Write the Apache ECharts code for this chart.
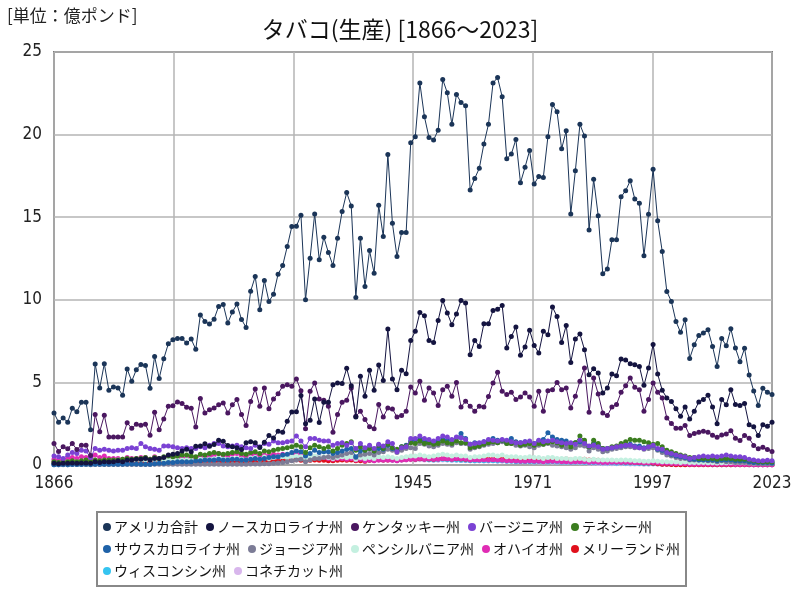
<!DOCTYPE html>
<html><head><meta charset="utf-8">
<script src="https://cdn.jsdelivr.net/npm/echarts/dist/echarts.min.js"></script>
<style>html,body{margin:0;padding:0;background:#fff}#c{width:800px;height:600px}</style>
</head><body><div id="c"></div>
<script>
const startYear = 1866, endYear = 2023;
const titleText = 'タバコ(生産) [1866～2023]';
const unitText = '[単位：億ポンド]';
const seriesNames = ['アメリカ合計','ノースカロライナ州','ケンタッキー州','バージニア州','テネシー州','サウスカロライナ州','ジョージア州','ペンシルバニア州','オハイオ州','メリーランド州','ウィスコンシン州','コネチカット州'];
const seriesColors = ['#1b3558','#141440','#4a1760','#7b42d4','#3b7d1f','#1f62a8','#7c7c96','#c4f0e0','#e02cb4','#e0101c','#35c4f0','#d8b6ec'];

const usTotal = [
3.15,2.59,2.85,2.59,3.43,3.23,3.8,3.8,2.14,6.11,
4.66,6.13,4.52,4.72,4.66,4.22,5.81,5.07,5.77,6.09,
6.03,4.64,6.57,5.24,6.43,7.34,7.58,7.66,7.66,7.38,
7.62,7.0,9.08,8.69,8.53,8.83,9.6,9.72,8.59,9.26,
9.74,8.81,8.33,10.52,11.41,9.4,11.17,9.9,10.34,11.55,
12.07,13.22,14.43,14.45,15.12,10.0,12.52,15.2,12.42,13.79,
12.86,12.07,13.73,15.34,16.49,15.68,10.14,13.73,10.8,12.98,
11.61,15.72,13.83,18.8,14.63,12.62,14.07,14.07,19.5,19.87,
23.13,21.08,19.83,19.67,20.27,23.34,22.53,20.62,22.43,21.95,
21.74,16.65,17.35,17.96,19.43,20.62,23.13,23.45,22.29,18.54,
18.82,19.71,17.09,18.02,19.04,17.01,17.47,17.41,19.87,21.82,
21.38,19.14,20.23,15.2,17.81,20.62,19.91,14.23,17.29,15.09,
11.57,11.87,13.64,13.64,16.24,16.6,17.21,16.1,15.84,12.66,
15.18,17.9,14.79,12.92,10.5,9.9,8.69,8.03,8.79,6.45,
7.28,7.84,7.99,8.19,7.18,5.97,7.66,7.22,8.25,7.08,
6.25,7.06,5.45,4.48,3.6,4.64,4.4,4.26];

const northCarolina = [
0.1,0.08,0.1,0.1,0.12,0.1,0.12,0.12,0.1,0.2,
0.15,0.2,0.18,0.2,0.25,0.2,0.3,0.3,0.35,0.35,
0.4,0.3,0.4,0.4,0.45,0.6,0.65,0.7,0.85,0.95,
0.8,1.14,1.15,1.28,1.14,1.24,1.5,1.44,1.18,1.1,
1.04,0.94,1.34,1.4,1.34,1.06,1.38,1.78,1.64,2.04,
1.98,2.65,3.21,3.23,4.2,2.5,2.71,4.0,2.58,3.8,
3.8,4.86,4.97,4.93,5.85,4.8,2.91,5.37,4.16,5.73,
4.52,6.05,5.12,8.23,5.21,4.56,5.73,5.53,7.54,8.09,
9.23,9.03,7.54,7.42,8.75,9.96,9.2,8.49,9.14,9.96,
9.8,6.68,7.54,7.18,8.55,8.55,9.35,9.43,9.66,7.08,
7.78,8.35,6.64,7.14,8.15,7.24,6.78,8.09,7.89,9.56,
8.99,7.42,8.45,6.21,7.62,7.93,6.98,5.47,5.83,5.57,
4.36,4.66,5.51,5.41,6.41,6.35,6.13,6.07,5.97,4.82,
5.87,7.3,5.51,4.52,4.06,3.84,3.41,2.95,3.51,2.79,
3.25,3.82,3.96,4.22,3.51,2.49,3.96,3.64,4.56,3.66,
3.6,3.72,2.43,2.31,1.78,2.43,2.35,2.59];

const kentucky = [
1.3,0.82,1.1,0.98,1.3,0.94,1.2,1.2,0.57,3.05,
2.02,3.01,1.7,1.7,1.7,1.7,2.55,2.22,2.47,2.41,
2.47,1.8,3.19,2.14,2.79,3.55,3.59,3.82,3.72,3.5,
3.43,2.3,4.03,3.15,3.35,3.45,3.64,3.76,3.15,3.64,
3.96,3.05,2.39,3.84,4.6,3.55,4.66,3.4,4.0,4.32,
4.76,4.86,4.76,5.21,4.5,2.2,4.46,4.97,4.0,3.92,
3.55,1.98,3.05,3.8,3.92,4.66,2.95,3.25,2.75,2.31,
2.19,3.66,2.91,3.45,3.39,2.91,2.99,3.25,4.72,4.36,
5.07,3.92,4.66,4.36,3.6,4.56,4.76,4.16,5.0,3.51,
3.86,3.55,3.25,3.55,3.51,4.15,4.97,5.61,4.46,4.26,
4.4,3.96,4.12,4.36,4.12,3.55,4.46,3.25,4.5,4.56,
5.0,4.56,4.66,3.45,4.16,5.07,5.87,3.19,5.27,4.3,
3.15,2.99,3.51,3.66,4.4,4.8,5.27,4.7,4.56,3.25,
3.96,4.97,4.4,4.06,2.85,2.51,2.22,2.22,2.39,1.78,
1.9,1.98,2.04,1.98,1.8,1.68,1.82,1.88,2.08,1.62,
1.48,1.78,1.62,1.18,0.98,1.08,0.94,0.82];

const virginia = [
0.55,0.5,0.4,0.6,0.75,0.7,0.9,0.85,0.45,1.0,
0.9,0.95,0.9,0.85,0.9,0.9,1.0,1.05,1.0,1.3,
1.1,1.0,0.95,0.9,1.15,1.15,1.1,1.05,1.0,1.05,
1.0,1.0,1.1,1.05,1.2,1.3,1.3,1.15,1.1,1.15,
1.2,1.1,1.05,1.0,1.2,1.1,1.3,1.25,1.45,1.35,
1.35,1.4,1.45,1.75,1.45,1.1,1.6,1.6,1.5,1.45,
1.45,1.2,1.3,1.35,1.2,1.35,1.0,1.3,1.05,1.2,
1.0,1.25,1.15,1.4,1.3,0.8,1.05,1.1,1.6,1.6,
1.75,1.6,1.55,1.45,1.6,1.75,1.7,1.55,1.7,1.65,
1.55,1.25,1.3,1.35,1.4,1.55,1.5,1.45,1.55,1.5,
1.4,1.35,1.35,1.4,1.45,1.3,1.5,1.4,1.45,1.5,
1.4,1.35,1.3,1.35,1.25,1.5,1.3,1.15,1.2,1.1,
0.95,1.0,1.05,1.1,1.15,1.2,1.2,1.1,1.05,1.0,
1.1,1.2,1.0,0.95,0.75,0.7,0.6,0.55,0.5,0.4,
0.45,0.5,0.55,0.5,0.55,0.5,0.55,0.6,0.55,0.5,
0.5,0.45,0.35,0.3,0.25,0.25,0.28,0.25];

const tennessee = [
0.2,0.15,0.2,0.2,0.25,0.2,0.25,0.3,0.2,0.3,
0.25,0.3,0.3,0.3,0.3,0.35,0.4,0.35,0.4,0.4,
0.45,0.35,0.45,0.4,0.5,0.55,0.5,0.55,0.6,0.6,
0.55,0.5,0.65,0.6,0.7,0.75,0.7,0.65,0.7,0.75,
0.8,0.7,0.65,0.75,0.8,0.7,0.85,0.8,0.9,0.95,
1.0,1.05,1.1,1.2,1.1,0.75,1.05,1.2,1.1,1.0,
1.1,0.85,1.0,1.2,1.3,1.4,0.9,1.1,0.9,1.0,
0.85,1.2,1.0,1.25,1.05,0.95,1.1,1.15,1.35,1.3,
1.45,1.3,1.35,1.25,1.3,1.45,1.35,1.3,1.45,1.35,
1.35,1.05,1.1,1.15,1.25,1.35,1.4,1.35,1.5,1.3,
1.3,1.35,1.2,1.25,1.3,1.2,1.3,1.25,1.35,1.4,
1.35,1.2,1.3,1.1,1.35,1.75,1.5,1.1,1.5,1.3,
1.0,1.0,1.1,1.15,1.3,1.4,1.55,1.5,1.5,1.4,
1.35,1.25,1.3,1.1,0.9,0.8,0.7,0.6,0.55,0.45,
0.45,0.4,0.4,0.4,0.4,0.35,0.4,0.4,0.4,0.35,
0.35,0.35,0.3,0.25,0.2,0.2,0.2,0.2];

const southCarolina = [
0.02,0.02,0.03,0.02,0.03,0.03,0.03,0.04,0.03,0.04,
0.04,0.04,0.05,0.05,0.05,0.05,0.06,0.06,0.06,0.05,
0.05,0.05,0.08,0.1,0.1,0.15,0.15,0.2,0.2,0.2,
0.2,0.25,0.25,0.3,0.3,0.3,0.35,0.3,0.3,0.35,
0.35,0.3,0.3,0.35,0.4,0.35,0.4,0.45,0.5,0.5,
0.6,0.65,0.75,0.85,0.8,0.55,0.7,0.9,0.75,0.8,
0.8,0.7,0.75,0.85,0.95,1.0,0.5,0.85,0.9,1.0,
0.85,1.0,0.95,1.2,1.0,0.9,1.1,1.2,1.45,1.5,
1.55,1.45,1.4,1.35,1.45,1.55,1.5,1.5,1.65,1.9,
1.6,1.25,1.35,1.3,1.4,1.45,1.6,1.5,1.5,1.35,
1.6,1.4,1.35,1.4,1.35,1.3,1.45,1.55,1.95,1.7,
1.55,1.5,1.45,1.3,1.35,1.4,1.35,1.1,1.3,1.2,
1.0,1.0,1.05,1.1,1.15,1.2,1.25,1.15,1.15,1.05,
1.1,1.2,0.95,0.9,0.75,0.65,0.55,0.5,0.45,0.35,
0.35,0.3,0.3,0.3,0.3,0.25,0.3,0.3,0.3,0.25,
0.25,0.25,0.2,0.15,0.15,0.15,0.15,0.12];

const georgia = [
0.02,0.02,0.02,0.02,0.03,0.03,0.03,0.03,0.02,0.03,
0.03,0.03,0.03,0.03,0.03,0.03,0.03,0.03,0.03,0.03,
0.03,0.03,0.04,0.04,0.04,0.04,0.04,0.04,0.04,0.04,
0.04,0.04,0.05,0.05,0.05,0.05,0.05,0.05,0.05,0.05,
0.05,0.05,0.05,0.06,0.06,0.06,0.07,0.08,0.1,0.12,
0.15,0.2,0.25,0.3,0.35,0.2,0.3,0.4,0.4,0.45,
0.5,0.45,0.55,0.6,0.7,0.75,0.45,0.6,0.65,0.7,
0.6,0.75,0.8,0.95,0.9,0.75,0.9,1.0,1.05,1.0,
1.3,1.25,1.15,1.1,1.2,1.3,1.25,1.2,1.35,1.3,
1.3,0.95,1.05,1.1,1.2,1.25,1.3,1.35,1.4,1.3,
1.3,1.2,1.15,1.2,1.1,1.05,1.2,1.25,1.3,1.2,
1.15,1.1,1.05,0.95,1.05,1.2,1.15,0.85,1.05,0.95,
0.8,0.85,0.95,1.0,1.05,1.1,1.1,1.05,1.05,0.95,
1.0,1.05,0.9,0.75,0.6,0.55,0.45,0.4,0.4,0.3,
0.3,0.3,0.3,0.25,0.25,0.2,0.25,0.2,0.2,0.15,
0.15,0.15,0.1,0.1,0.08,0.08,0.08,0.07];

const pennsylvania = [
0.15,0.12,0.15,0.18,0.2,0.18,0.22,0.2,0.12,0.25,
0.2,0.25,0.22,0.25,0.3,0.25,0.3,0.3,0.28,0.3,
0.3,0.25,0.32,0.28,0.3,0.32,0.35,0.3,0.3,0.32,
0.3,0.28,0.35,0.33,0.35,0.38,0.4,0.35,0.33,0.38,
0.4,0.35,0.3,0.42,0.45,0.35,0.48,0.4,0.45,0.5,
0.5,0.45,0.5,0.55,0.5,0.4,0.5,0.55,0.45,0.5,
0.45,0.4,0.45,0.5,0.45,0.5,0.35,0.45,0.4,0.45,
0.4,0.5,0.45,0.5,0.45,0.4,0.45,0.5,0.55,0.55,
0.6,0.55,0.5,0.55,0.6,0.65,0.6,0.55,0.6,0.55,
0.55,0.45,0.5,0.5,0.55,0.6,0.6,0.55,0.6,0.5,
0.5,0.5,0.45,0.45,0.5,0.45,0.45,0.4,0.45,0.45,
0.4,0.4,0.4,0.35,0.4,0.4,0.35,0.3,0.35,0.3,
0.3,0.3,0.3,0.28,0.3,0.3,0.28,0.25,0.25,0.22,
0.22,0.25,0.22,0.2,0.2,0.18,0.18,0.15,0.18,0.15,
0.15,0.15,0.15,0.14,0.14,0.12,0.14,0.14,0.15,0.13,
0.13,0.14,0.12,0.1,0.1,0.1,0.1,0.1];

const ohio = [
0.35,0.3,0.35,0.4,0.45,0.4,0.5,0.45,0.3,0.6,
0.45,0.55,0.4,0.4,0.4,0.35,0.45,0.4,0.4,0.45,
0.45,0.35,0.5,0.4,0.4,0.45,0.5,0.45,0.4,0.45,
0.45,0.4,0.55,0.5,0.55,0.6,0.7,0.6,0.55,0.65,
0.7,0.55,0.5,0.6,0.65,0.5,0.6,0.55,0.65,0.6,
0.65,0.6,0.65,0.7,0.6,0.45,0.55,0.5,0.45,0.45,
0.4,0.35,0.4,0.4,0.35,0.4,0.3,0.35,0.25,0.3,
0.25,0.3,0.3,0.3,0.28,0.25,0.3,0.32,0.35,0.35,
0.4,0.35,0.38,0.35,0.35,0.4,0.38,0.35,0.4,0.38,
0.36,0.3,0.32,0.3,0.32,0.3,0.32,0.3,0.28,0.25,
0.25,0.24,0.22,0.23,0.24,0.22,0.22,0.2,0.22,0.23,
0.22,0.2,0.2,0.18,0.2,0.2,0.2,0.16,0.18,0.17,
0.15,0.15,0.16,0.16,0.17,0.16,0.16,0.15,0.15,0.13,
0.13,0.15,0.12,0.11,0.1,0.09,0.08,0.07,0.07,0.05,
0.05,0.05,0.05,0.04,0.04,0.04,0.04,0.04,0.04,0.03,
0.03,0.03,0.03,0.02,0.02,0.02,0.02,0.02];

const maryland = [
0.2,0.22,0.2,0.18,0.15,0.2,0.18,0.2,0.2,0.18,
0.2,0.22,0.2,0.22,0.25,0.2,0.22,0.2,0.2,0.18,
0.2,0.2,0.22,0.2,0.22,0.2,0.2,0.18,0.2,0.2,
0.2,0.18,0.2,0.2,0.22,0.2,0.22,0.2,0.18,0.2,
0.2,0.18,0.18,0.2,0.22,0.2,0.22,0.22,0.25,0.22,
0.25,0.28,0.3,0.32,0.28,0.25,0.28,0.3,0.28,0.28,
0.26,0.25,0.28,0.3,0.28,0.3,0.25,0.25,0.22,0.28,
0.3,0.32,0.3,0.3,0.32,0.3,0.32,0.35,0.36,0.35,
0.38,0.36,0.36,0.35,0.38,0.4,0.38,0.36,0.38,0.36,
0.35,0.32,0.34,0.34,0.36,0.36,0.35,0.34,0.35,0.33,
0.32,0.32,0.3,0.3,0.3,0.32,0.34,0.35,0.32,0.32,
0.32,0.34,0.36,0.32,0.3,0.34,0.35,0.3,0.3,0.28,
0.25,0.24,0.22,0.2,0.18,0.18,0.16,0.15,0.14,0.12,
0.12,0.1,0.08,0.05,0.04,0.03,0.02,0.02,0.02,0.02,
0.02,0.02,0.02,0.02,0.01,0.01,0.01,0.01,0.01,0.01,
0.01,0.01,0.01,0.01,0.01,0.01,0.01,0.01];

const wisconsin = [
0.05,0.05,0.06,0.08,0.1,0.1,0.12,0.12,0.08,0.15,
0.12,0.15,0.14,0.15,0.15,0.18,0.2,0.2,0.22,0.25,
0.25,0.2,0.25,0.22,0.25,0.28,0.3,0.25,0.25,0.3,
0.3,0.28,0.32,0.3,0.35,0.35,0.38,0.35,0.32,0.35,
0.38,0.35,0.32,0.4,0.42,0.38,0.45,0.4,0.45,0.48,
0.5,0.45,0.5,0.55,0.5,0.4,0.48,0.5,0.45,0.45,
0.42,0.4,0.45,0.45,0.4,0.42,0.35,0.38,0.25,0.3,
0.28,0.35,0.32,0.35,0.3,0.28,0.32,0.35,0.38,0.35,
0.38,0.35,0.32,0.3,0.32,0.35,0.32,0.3,0.3,0.28,
0.28,0.25,0.26,0.25,0.26,0.25,0.26,0.24,0.25,0.22,
0.22,0.2,0.2,0.2,0.2,0.18,0.2,0.18,0.18,0.2,
0.18,0.17,0.17,0.15,0.16,0.16,0.15,0.13,0.14,0.13,
0.12,0.12,0.12,0.11,0.12,0.11,0.1,0.1,0.09,0.08,
0.08,0.08,0.07,0.06,0.06,0.05,0.05,0.04,0.04,0.03,
0.03,0.03,0.03,0.03,0.02,0.02,0.02,0.02,0.02,0.02,
0.02,0.02,0.01,0.01,0.01,0.01,0.01,0.01];

const connecticut = [
0.1,0.1,0.12,0.15,0.15,0.12,0.15,0.18,0.1,0.2,
0.15,0.2,0.18,0.2,0.2,0.18,0.2,0.2,0.18,0.2,
0.2,0.18,0.2,0.18,0.2,0.22,0.22,0.2,0.18,0.22,
0.2,0.2,0.22,0.2,0.22,0.25,0.24,0.22,0.22,0.25,
0.25,0.22,0.22,0.25,0.28,0.24,0.28,0.26,0.3,0.32,
0.32,0.35,0.38,0.4,0.38,0.3,0.35,0.4,0.35,0.38,
0.35,0.32,0.35,0.38,0.35,0.32,0.3,0.28,0.25,0.28,
0.25,0.28,0.27,0.3,0.28,0.25,0.28,0.3,0.32,0.3,
0.32,0.3,0.3,0.28,0.28,0.3,0.3,0.28,0.28,0.27,
0.26,0.25,0.24,0.25,0.24,0.24,0.25,0.24,0.23,0.22,
0.22,0.21,0.2,0.2,0.19,0.18,0.18,0.17,0.18,0.17,
0.16,0.16,0.15,0.14,0.15,0.14,0.13,0.1,0.1,0.09,
0.07,0.07,0.07,0.07,0.07,0.07,0.06,0.06,0.06,0.05,
0.05,0.06,0.05,0.05,0.05,0.04,0.04,0.04,0.04,0.04,
0.04,0.04,0.04,0.03,0.03,0.03,0.03,0.03,0.03,0.03,
0.03,0.03,0.03,0.02,0.02,0.02,0.02,0.02];

const allValues = [usTotal, northCarolina, kentucky, virginia, tennessee, southCarolina, georgia, pennsylvania, ohio, maryland, wisconsin, connecticut];
const span = endYear - startYear;

const chart = echarts.init(document.getElementById('c'), null, {renderer: 'canvas'});
const series = [];
for (let k = allValues.length - 1; k >= 0; k--) {
  series.push({
    name: seriesNames[k],
    type: 'line',
    data: allValues[k].map((v, i) => [i, v]),
    symbol: 'circle',
    symbolSize: 5,
    showSymbol: true,
    lineStyle: {width: 1, color: seriesColors[k]},
    itemStyle: {color: seriesColors[k]},
    z: 10 - k * 0.1,
    silent: true
  });
}
const font = "'Liberation Sans Narrow','DejaVu Sans Condensed','Noto Sans CJK JP',sans-serif";
chart.setOption({
  animation: false,
  backgroundColor: '#fff',
  title: {text: titleText, left: 'center', top: 13,
    textStyle: {fontFamily: "'Noto Sans CJK JP'", fontSize: 23, fontWeight: 'normal', color: '#111'}},
  graphic: [{type: 'text', left: 7, top: 7,
    style: {text: unitText, font: "17px 'Noto Sans CJK JP'", fill: '#222'}}],
  grid: {left: 54, right: 28, top: 52, bottom: 135, show: true, borderColor: '#7a7a7a', borderWidth: 2, backgroundColor: 'transparent'},
  xAxis: {type: 'value', min: 0, max: span, interval: span / 6,
    axisLine: {show: false}, axisTick: {show: false},
    splitLine: {show: true, lineStyle: {color: '#b4b4b4', width: 1.5}},
    axisLabel: {fontFamily: font, fontSize: 17, color: '#222', margin: 10,
      formatter: v => String(Math.round(startYear + v + 1e-6))}},
  yAxis: {type: 'value', min: 0, max: 25, interval: 5,
    axisLine: {show: false}, axisTick: {show: false},
    splitLine: {show: true, lineStyle: {color: '#b4b4b4', width: 1.5}},
    axisLabel: {fontFamily: font, fontSize: 17, color: '#222', margin: 12}},
  legend: {data: seriesNames, left: 97, top: 512, width: 610,
    orient: 'horizontal', icon: 'circle', itemWidth: 8, itemHeight: 8, itemGap: 8,
    padding: [8, 6, 8, 6], borderColor: '#888', borderWidth: 2,
    textStyle: {fontFamily: "'Noto Sans CJK JP'", fontSize: 14, color: '#111', padding: [0, 0, 0, -2]}},
  series: series
});
</script></body></html>
